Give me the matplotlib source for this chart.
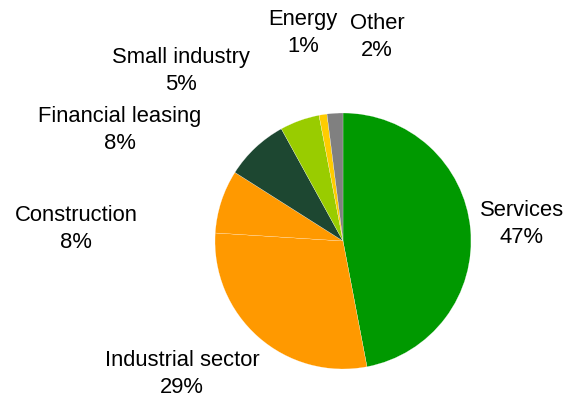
import matplotlib
matplotlib.use("Agg")
import matplotlib.pyplot as plt

sectors = ["Services", "Industrial sector", "Construction", "Financial leasing",
           "Small industry", "Energy", "Other"]
shares = [47, 29, 8, 8, 5, 1, 2]
colors = ["#009900", "#FF9900", "#FF9900", "#1D4731", "#99CC00", "#FFCC00", "#808080"]

# label block centres in pixel space (x, y from top)
label_pos = [(522, 224), (182, 374), (76, 229), (120, 130), (181, 71), (303, 33), (377, 37)]

W, H = 566, 402
fig = plt.figure(figsize=(W / 100, H / 100), dpi=100)
ax = fig.add_axes([0, 0, 1, 1])

ax.pie(shares, colors=colors, startangle=90, counterclock=False,
       center=(343, H - 242), radius=128, frame=True,
       wedgeprops=dict(edgecolor="white", linewidth=0.15))
ax.set_xlim(0, W)
ax.set_ylim(0, H)
ax.set_aspect("equal")
ax.axis("off")

for name, val, (x, y) in zip(sectors, shares, label_pos):
    ax.text(x, H - y, f"{name}\n{val}%", ha="center", va="center",
            fontsize=15.8, family="Liberation Sans", color="black",
            linespacing=1.38)

fig.savefig("out.png", dpi=100)
